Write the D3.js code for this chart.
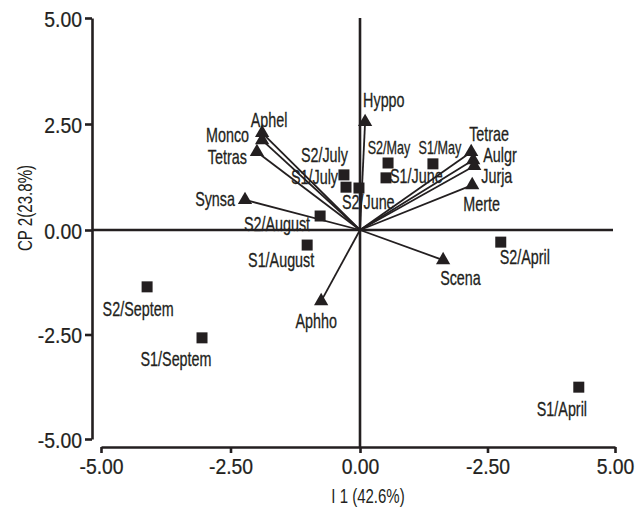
<!DOCTYPE html>
<html><head><meta charset="utf-8">
<script src="https://cdn.jsdelivr.net/npm/d3@7"></script>
<style>body{margin:0;background:#fff}svg{display:block}</style>
</head><body>
<svg id="chart" width="636" height="508"></svg>
<script>
// ---- data ----
const xTickValues = [-5, -2.5, 0, 2.5, 5];
const xTickLabels = ["-5.00", "-2.50", "0.00", "-2.50", "5.00"];
const yTickValues = [-5, -2.5, 0, 2.5, 5];
const yTickLabels = ["-5.00", "-2.50", "0.00", "2.50", "5.00"];
const xTitle = "I 1 (42.6%)";
const yTitle = "CP 2(23.8%)";

const siteNames = ["S2/Septem","S1/Septem","S1/August","S2/August","S2/July","S1/July","S2/June","S2/May","S1/June","S1/May","S2/April","S1/April"];
const siteX = [-4.11, -3.05, -1.02, -0.77, -0.31, -0.27, -0.02, 0.55, 0.51, 1.43, 2.76, 4.29];
const siteY = [-1.36, -2.58, -0.36, 0.33, 1.30, 1.01, 0.99, 1.58, 1.23, 1.56, -0.29, -3.76];

const speciesNames = ["Aphel","Monco","Tetras","Synsa","Hyppo","Tetrae","Aulgr","Jurja","Merte","Scena","Aphho"];
const speciesX = [-1.89, -1.89, -1.99, -2.22, 0.10, 2.18, 2.22, 2.24, 2.20, 1.63, -0.75];
const speciesY = [2.29, 2.12, 1.84, 0.71, 2.55, 1.84, 1.65, 1.51, 1.06, -0.72, -1.70];

// ---- label layout (pixel offsets from the mark) ----
const labelLayout = {
  "Aphel":[7,-6,"middle"], "Monco":[-13,2,"end"], "Tetras":[-10,12,"end"], "Synsa":[-10,6,"end"],
  "Hyppo":[-2,-15,"start"], "Tetrae":[-2,-11,"start"], "Aulgr":[10,2,"start"], "Jurja":[7,17,"start"],
  "Merte":[-9,26,"start"], "Scena":[-3,25,"start"], "Aphho":[-5,27,"middle"],
  "S2/Septem":[-9,29,"middle"], "S1/Septem":[-26,28,"middle"], "S1/August":[-26,22,"middle"],
  "S2/August":[-10,15,"end"], "S2/July":[4,-13,"end"], "S1/July":[-8,-3,"end"], "S2/June":[-17,21,"start"],
  "S2/May":[1,-9,"middle"], "S1/June":[4,5,"start"], "S1/May":[7,-10,"middle"],
  "S2/April":[-1,22,"start"], "S1/April":[-42,29,"start"]
};
const smallLabels = ["S2/May","S1/May"];

const ink = "#231f20";
const regular = "'Liberation Sans', Arial, sans-serif";
const condensed = "'Liberation Sans Narrow', 'Liberation Sans', Arial, sans-serif";

const svg = d3.select("#chart");

// detect whether the narrow face exists; pick horizontal squeeze accordingly
const probe = svg.append("text").attr("font-size", 50).attr("font-family", condensed).text("MMMMabcde");
const wN = probe.node().getComputedTextLength();
probe.attr("font-family", regular);
const wR = probe.node().getComputedTextLength();
probe.remove();
const hasNarrow = wN < wR * 0.9;
const squeeze = hasNarrow ? 0.85 : 0.70;
const titleSqueeze = hasNarrow ? 0.88 : 0.72;

const x = d3.scaleLinear().domain([-5, 0, 5]).range([101, 360, 615]);
const y = d3.scaleLinear().domain([-5, 0, 5]).range([439, 230, 18]);
const yAxisX = 92, xAxisY = 447;

// axes
const gx = svg.append("g").attr("transform", `translate(0,${xAxisY})`)
  .call(d3.axisBottom(x).tickValues(xTickValues).tickFormat((d,i)=>xTickLabels[i]).tickSizeOuter(0).tickSizeInner(6).tickPadding(5));
const gy = svg.append("g").attr("transform", `translate(${yAxisX},0)`)
  .call(d3.axisLeft(y).tickValues(yTickValues).tickFormat((d,i)=>yTickLabels[i]).tickSizeOuter(0).tickSizeInner(7).tickPadding(3));
[gx, gy].forEach(g => {
  g.select(".domain").attr("stroke", ink).attr("stroke-width", 2.6);
  g.selectAll(".tick line").attr("stroke", ink).attr("stroke-width", 2.6);
  g.selectAll(".tick text").attr("fill", ink).attr("font-family", regular).attr("font-size", 22)
    .attr("stroke", ink).attr("stroke-width", 0.25);
});
gx.selectAll(".tick text").attr("y", 0).attr("dy", 0).attr("transform", "translate(0,27) scale(0.88,1)");
gy.selectAll(".tick text").attr("x", 0).attr("dy", 0).attr("transform", "translate(-10,8) scale(0.88,1)");

// origin cross lines
svg.append("line").attr("x1", yAxisX).attr("x2", x(5) - 2).attr("y1", y(0)).attr("y2", y(0))
  .attr("stroke", ink).attr("stroke-width", 2.6);
svg.append("line").attr("x1", x(0)).attr("x2", x(0)).attr("y1", y(5)).attr("y2", xAxisY)
  .attr("stroke", ink).attr("stroke-width", 2.6);

const species = speciesNames.map((n,i)=>({name:n, x:speciesX[i], y:speciesY[i]}));
const sites = siteNames.map((n,i)=>({name:n, x:siteX[i], y:siteY[i]}));

// species arrows
svg.append("g").selectAll("line").data(species).join("line")
  .attr("x1", x(0)).attr("y1", y(0)).attr("x2", d=>x(d.x)).attr("y2", d=>y(d.y))
  .attr("stroke", ink).attr("stroke-width", 1.8);

svg.append("g").selectAll("path").data(species).join("path")
  .attr("d", d3.symbol(d3.symbolTriangle, 88))
  .attr("transform", d=>`translate(${x(d.x)},${y(d.y)})`)
  .attr("fill", ink);

svg.append("g").selectAll("path").data(sites).join("path")
  .attr("d", d3.symbol(d3.symbolSquare, 121))
  .attr("transform", d=>`translate(${x(d.x)},${y(d.y)})`)
  .attr("fill", ink);

// labels
svg.append("g").selectAll("text").data(species.concat(sites)).join("text")
  .attr("transform", d=>{
    const L = labelLayout[d.name];
    return `translate(${x(d.x)+L[0]},${y(d.y)+L[1]}) scale(${squeeze},1)`;
  })
  .attr("text-anchor", d=>labelLayout[d.name][2])
  .attr("font-family", hasNarrow ? condensed : regular)
  .attr("font-size", d=>smallLabels.includes(d.name) ? 18 : 20.5)
  .attr("fill", ink).attr("stroke", ink).attr("stroke-width", 0.3)
  .text(d=>d.name);

// axis titles
svg.append("text").attr("transform", `translate(368,503) scale(${hasNarrow ? 0.92 : 0.75},1)`)
  .attr("text-anchor", "middle").attr("font-family", hasNarrow ? condensed : regular).attr("font-size", 20).attr("fill", ink)
  .text(xTitle);
svg.append("text").attr("transform", `translate(32,208) rotate(-90) scale(${titleSqueeze},1)`)
  .attr("text-anchor", "middle").attr("font-family", hasNarrow ? condensed : regular).attr("font-size", 21).attr("fill", ink)
  .text(yTitle);
</script>
</body></html>
